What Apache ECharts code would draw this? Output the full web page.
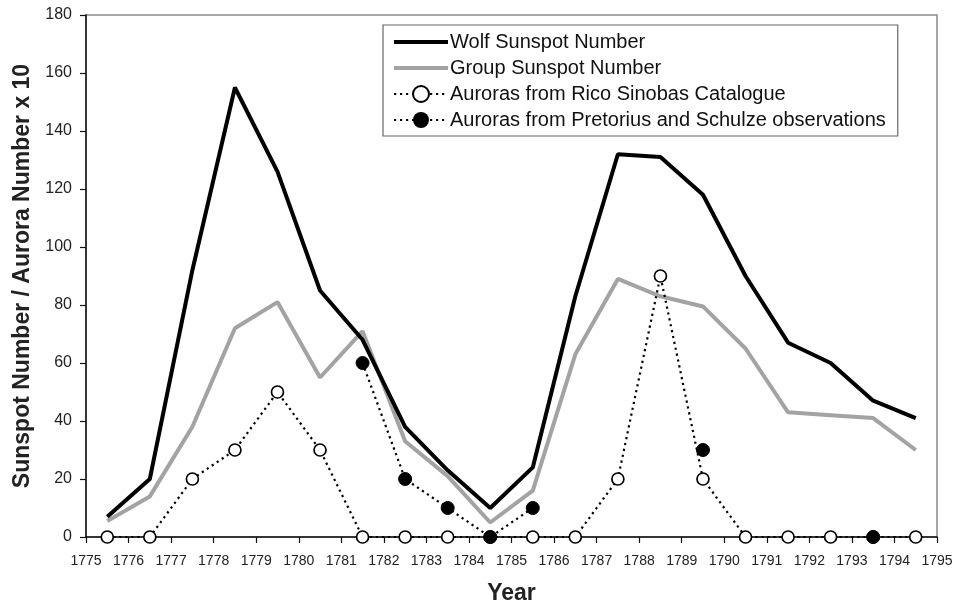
<!DOCTYPE html>
<html>
<head>
<meta charset="utf-8">
<script src="https://cdn.jsdelivr.net/npm/echarts@6/dist/echarts.min.js"></script>
<style>
html,body{margin:0;padding:0;background:#fff;}
#chart{width:956px;height:610px;}
</style>
</head>
<body>
<div id="chart"></div>
<script>
// Years (values plotted at mid-year)
var years = [1775,1776,1777,1778,1779,1780,1781,1782,1783,1784,1785,1786,1787,1788,1789,1790,1791,1792,1793,1794];
var wolf = [7,20,92,155,126,85,68,38,23,10,24,83,132,131,118,90,67,60,47,41];
var group = [5.5,14,38,72,81,55,71,33,21,5,16,63,89,83,79.5,65,43,42,41,30];
var rico = [0,0,20,30,50,30,0,0,0,0,0,0,20,90,20,0,0,0,0,0];
var pretorius = [null,null,null,null,null,null,60,20,10,0,10,null,null,null,30,null,null,null,0,null];
var seriesNames = ["Wolf Sunspot Number","Group Sunspot Number","Auroras from Rico Sinobas Catalogue","Auroras from Pretorius and Schulze observations"];
var yTitle = "Sunspot Number / Aurora Number x 10";
var xTitle = "Year";

function pts(arr){ return years.map(function(y,i){ return [y+0.5, arr[i]]; }); }

var lineIcon = 'path://M0,0h0.01v0.01h-0.01z M0,8h54v4h-54z M0,20h0.01v0.01h-0.01z';

var chart = echarts.init(document.getElementById('chart'), null, {renderer:'canvas'});
var font = 'Liberation Sans, Arial, Helvetica, sans-serif';
var dotted = [2.2,3.8];
chart.setOption({
  animation:false,
  backgroundColor:'#fff',
  textStyle:{fontFamily:font},
  grid:{left:86,right:19,top:15,bottom:68,show:true,borderColor:'#8a8a8a',borderWidth:1.5},
  legend:{
    orient:'vertical', left:383, top:25,
    padding:[7,12,6,10], itemGap:6,
    itemWidth:54, itemHeight:20,
    borderColor:'#666', borderWidth:1.2, backgroundColor:'#fff',
    textStyle:{fontSize:20,lineHeight:20,color:'#111',fontFamily:font,padding:[0,0,0,-3]},
    data:[
      {name:seriesNames[0],icon:lineIcon},
      {name:seriesNames[1],icon:lineIcon},
      {name:seriesNames[2]},
      {name:seriesNames[3]}
    ]
  },
  xAxis:{
    type:'value', min:1775, max:1795, interval:1,
    name:xTitle, nameLocation:'middle', nameGap:45,
    nameTextStyle:{fontSize:23,fontWeight:'bold',color:'#222',fontFamily:font},
    axisLine:{lineStyle:{color:'#111',width:1.5}},
    axisTick:{show:true,length:6,lineStyle:{color:'#111',width:1.2}},
    axisLabel:{fontSize:14,color:'#222',margin:17,formatter:function(v){return String(v);}},
    splitLine:{show:false}
  },
  yAxis:{
    type:'value', min:0, max:180, interval:20,
    name:yTitle, nameLocation:'middle', nameGap:50, nameRotate:90,
    nameTextStyle:{fontSize:23,fontWeight:'bold',color:'#222',fontFamily:font},
    axisLine:{show:true,lineStyle:{color:'#111',width:1.5}},
    axisTick:{show:true,length:6,lineStyle:{color:'#111',width:1.2}},
    axisLabel:{fontSize:16,color:'#222',margin:14},
    splitLine:{show:false}
  },
  series:[
    {name:seriesNames[0],type:'line',data:pts(wolf),symbol:'none',
     lineStyle:{color:'#000',width:4},itemStyle:{color:'#000'},z:4},
    {name:seriesNames[1],type:'line',data:pts(group),symbol:'none',
     lineStyle:{color:'#a3a3a3',width:4},itemStyle:{color:'#a3a3a3'},z:3},
    {name:seriesNames[2],type:'line',data:pts(rico),symbol:'circle',symbolSize:12,showAllSymbol:true,
     lineStyle:{color:'#000',width:2.2,type:dotted},
     itemStyle:{color:'#fff',borderColor:'#000',borderWidth:1.7},z:5},
    {name:seriesNames[3],type:'line',data:pts(pretorius),symbol:'circle',symbolSize:13,showAllSymbol:true,connectNulls:false,
     lineStyle:{color:'#000',width:2.2,type:dotted},
     itemStyle:{color:'#000',borderColor:'#000'},z:6}
  ]
});
</script>
</body>
</html>
